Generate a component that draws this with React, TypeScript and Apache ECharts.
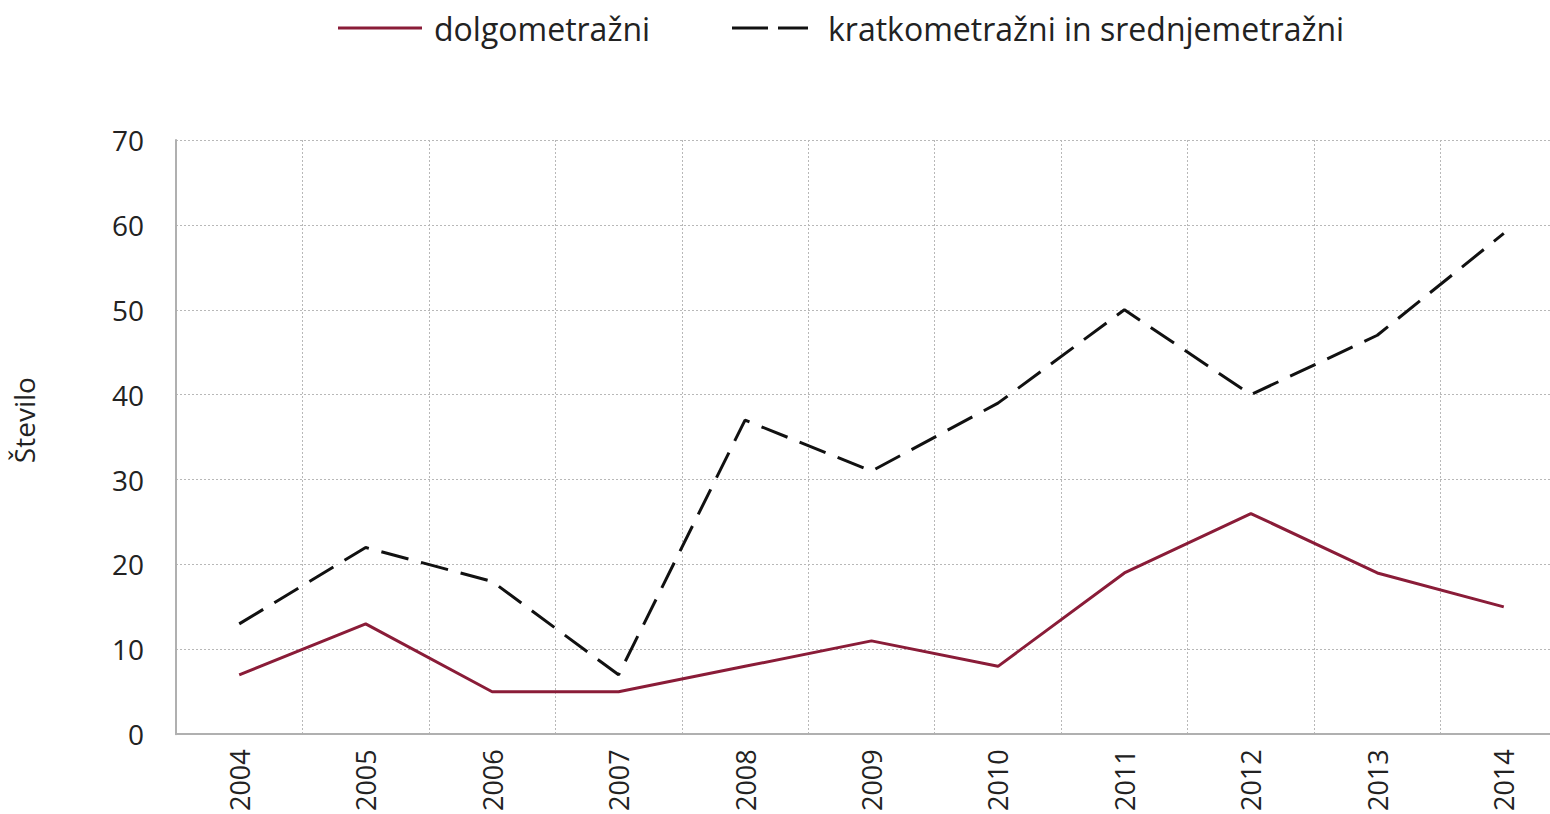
import React, { useEffect, useRef } from "react";
import * as echarts from "echarts";

const years = ["2004", "2005", "2006", "2007", "2008", "2009", "2010", "2011", "2012", "2013", "2014"];
const dolgometrazni = [7, 13, 5, 5, 8, 11, 8, 19, 26, 19, 15];
const kratkoSrednje = [13, 22, 18, 7, 37, 31, 39, 50, 40, 47, 59];
const seriesNames = ["dolgometražni", "kratkometražni in srednjemetražni"];
const yAxisName = "Število";

const FONT = "'Open Sans', sans-serif";
const RED = "#8a1c38";
const BLACK = "#111111";

export default function App() {
  const ref = useRef<HTMLDivElement>(null);
  useEffect(() => {
    document.body.style.margin = "0";
    document.body.style.overflow = "hidden";
    const chart = echarts.init(ref.current!, null, { renderer: "svg" });
    chart.setOption({
      animation: false,
      backgroundColor: "#ffffff",
      graphic: [
        { type: "line", shape: { x1: 338, y1: 28, x2: 422, y2: 28 }, style: { stroke: RED, lineWidth: 3 } },
        {
          type: "text",
          x: 434,
          y: 28,
          style: { text: seriesNames[0], fontFamily: FONT, fontSize: 32, fill: "#222", verticalAlign: "middle" },
        },
        { type: "line", shape: { x1: 732, y1: 28, x2: 768, y2: 28 }, style: { stroke: BLACK, lineWidth: 3 } },
        { type: "line", shape: { x1: 778, y1: 28, x2: 808, y2: 28 }, style: { stroke: BLACK, lineWidth: 3 } },
        {
          type: "text",
          x: 828,
          y: 28,
          style: { text: seriesNames[1], fontFamily: FONT, fontSize: 32, fill: "#222", verticalAlign: "middle" },
        },
      ],
      grid: { left: 176, right: 0, top: 140, bottom: 76, containLabel: false },
      xAxis: {
        type: "category",
        data: years,
        boundaryGap: true,
        axisLine: { show: true, lineStyle: { color: "#b0b0b0", width: 2 } },
        axisTick: { show: false },
        axisLabel: {
          rotate: 90,
          margin: 15,
          fontFamily: FONT,
          fontSize: 27,
          color: "#222",
        },
        splitLine: { show: true, interval: 0, lineStyle: { color: "#b8b8b8", type: [2, 2], width: 1 } },
      },
      yAxis: {
        type: "value",
        min: 0,
        max: 70,
        interval: 10,
        name: yAxisName,
        nameLocation: "middle",
        nameGap: 138,
        nameRotate: 90,
        nameTextStyle: { fontFamily: FONT, fontSize: 28, color: "#222", padding: [0, 0, 0, 34] },
        axisLine: { show: true, lineStyle: { color: "#b0b0b0", width: 2 } },
        axisTick: { show: false },
        axisLabel: { margin: 32, fontFamily: FONT, fontSize: 28, color: "#222" },
        splitLine: { show: true, lineStyle: { color: "#b8b8b8", type: [2, 2], width: 1 } },
      },
      series: [
        {
          name: seriesNames[0],
          type: "line",
          data: dolgometrazni,
          symbol: "none",
          lineStyle: { color: RED, width: 3 },
          itemStyle: { color: RED },
        },
        {
          name: seriesNames[1],
          type: "line",
          data: kratkoSrednje,
          symbol: "none",
          lineStyle: { color: BLACK, width: 3, type: [28, 13] },
          itemStyle: { color: BLACK },
        },
      ],
    });
    return () => chart.dispose();
  }, []);
  return <div ref={ref} style={{ width: 1567, height: 814 }} />;
}
